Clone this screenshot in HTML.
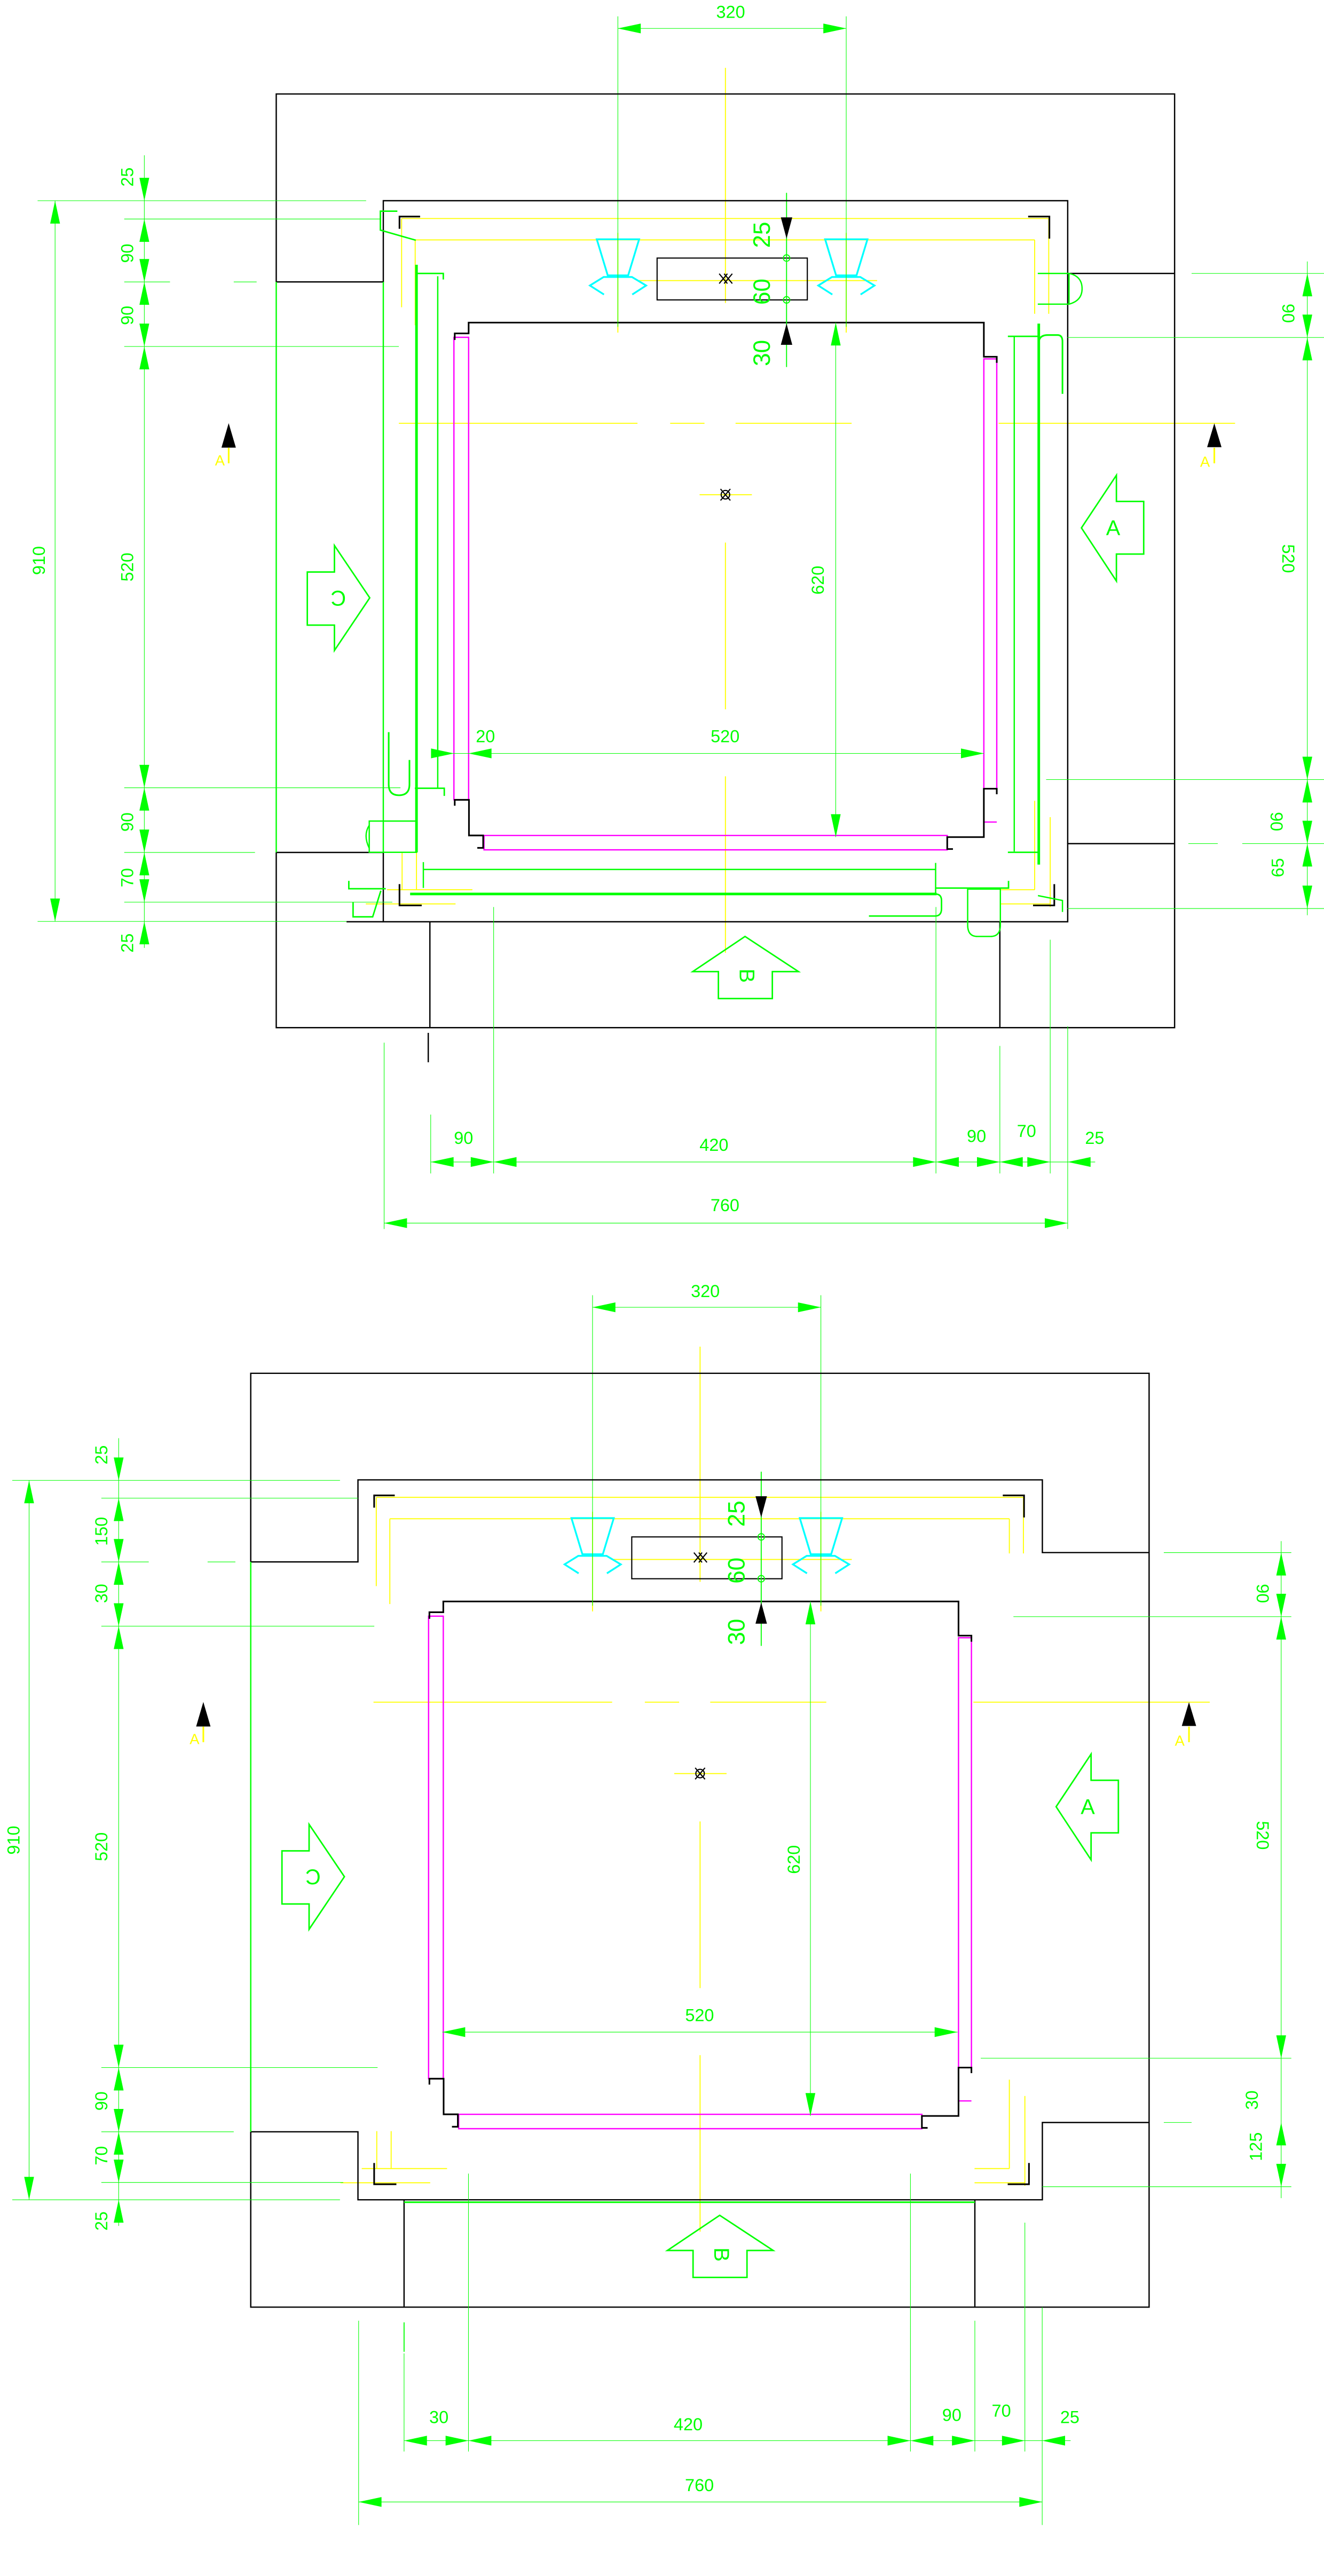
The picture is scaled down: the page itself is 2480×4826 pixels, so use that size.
<!DOCTYPE html>
<html><head><meta charset="utf-8"><style>html,body{margin:0;padding:0;background:#fff}svg{display:block}text{font-family:"Liberation Sans",sans-serif}</style></head>
<body>
<svg xmlns="http://www.w3.org/2000/svg" width="2480" height="4826" viewBox="0 0 810 1576.2" preserveAspectRatio="none">
<rect x="0" y="0" width="810" height="1576.2" fill="#fff"/>
<g id="topcommon">
 <g stroke="#ffff00" stroke-width="0.6" fill="none">
  <path d="M443.8,41.5V185.4M443.8,332V434M443.8,475V583M428,302.7H460"/>
  <path d="M244,259H390M410,259H431M450,259H521M611,259H755.6"/>
  <path d="M378,142.5V203.5M517.7,142.5V203.5M390,171.7H536.6"/>
  <path d="M245.7,133.7H641.6M254,146.8H633M245.7,133.7V188M254,146.8V199M641.6,133.7V192M633,146.8V192"/>
  <path d="M236.8,544.4H289M223.8,553.1H278.7M246,521.5V544.4M254.8,521.5V544.4"/>
  <path d="M611.7,544.4H633M611.7,553.1H642.5M633,490V544.4M642.5,500V555"/>
 </g>
 <g stroke="#000" stroke-width="1" fill="none">
  <path d="M257,132.5H244.4V140M629,132.5H642V146"/>
  <path d="M244.4,541V554H258M645,541V554H632"/>
 </g>
 <g stroke="#ff00ff" stroke-width="0.8" fill="none">
  <rect x="277.7" y="206.4" width="9" height="283"/>
  <rect x="601.9" y="219.6" width="7.9" height="263"/>
  <path d="M296.1,511.2H579.5V520H296.1Z"/>
  <path d="M601.9,500V503H609.8"/>
 </g>
 <g stroke="#000" stroke-width="1" fill="none">
  <path d="M278.2,208V204H286.7V197.4H601.9V218.3H609.8V222"/>
  <path d="M278.2,493V489.4H286.9V511.2H295.6V518.8H292"/>
  <path d="M609.8,486V482.6H601.9V512.2H579.5V519.5H583"/>
 </g>
 <rect x="402" y="157.9" width="91.9" height="25.6" fill="none" stroke="#000" stroke-width="0.7"/>
 <g stroke="#000" stroke-width="0.7" fill="none">
  <path d="M440,167.5l5,6M445,167.5l-5,6M443,167.5l5,6M448,167.5l-5,6"/>
  <circle cx="443.8" cy="302.7" r="2.6"/><path d="M440.8,299.2l6,7M446.8,299.2l-6,7"/>
 </g>
 <g stroke="#00ffff" stroke-width="1.1" fill="none">
  <path d="M365.1,146.4H391L384.3,168.5H371.8Z M369.5,180.2L360.9,174.7L369.3,169.5H386.6L395.3,174.7L386.8,180.2"/>
  <path d="M504.8,146.4H530.7L524,168.5H511.5Z M509.2,180.2L500.6,174.7L509,169.5H526.3L535,174.7L526.5,180.2"/>
 </g>
 <g stroke="#00ff00" stroke-width="0.9" fill="none">
  <path d="M188,350H204.6V333.8L226.2,365.8L204.6,398V382.5H188Z"/>
  <path d="M661.6,323L683,290.8V306.8H699.7V339H683V355.5Z"/>
  <path d="M455.8,573L488.5,594.5H472.5V611H439.5V594.5H423.8Z"/>
 </g>
 <path d="M135.5,273.9L139.9,258.9L144.3,273.9Z M738.5,273.6L742.9,259L747.3,273.6Z" fill="#000"/>
 <path d="M139.9,274V283.5M742.9,274V283.5" stroke="#ffff00" stroke-width="1"/>
 <g stroke="#00ff00" stroke-width="0.35" fill="none">
  <path d="M378,10V200M517.7,10V200M378,17.4H517.7M511.3,197.4V512.2"/>
 </g>
 <g fill="#00ff00">
  <path d="M378,17.4l14,-3v6zM517.7,17.4l-14,-3v6zM511.3,197.4l-3,14h6zM511.3,512.2l-3,-14h6z"/>
 </g>
 <g stroke="#00ff00" stroke-width="0.6" fill="none">
  <path d="M481.2,118V224.6"/>
  <circle cx="481.2" cy="157.9" r="2"/><circle cx="481.2" cy="183.5" r="2"/>
 </g>
 <path d="M481.2,146l-3.5,-13h7zM481.2,198l-3.5,13h7z" fill="#000"/>
</g>

<g transform="translate(-15.5,782.5)">
 <g stroke="#ffff00" stroke-width="0.6" fill="none">
  <path d="M443.8,41.5V185.4M443.8,332V434M443.8,475V583M428,302.7H460"/>
  <path d="M244,259H390M410,259H431M450,259H521M611,259H755.6"/>
  <path d="M378,142.5V203.5M517.7,142.5V203.5M390,171.7H536.6"/>
  <path d="M245.7,133.7H641.6M254,146.8H633M245.7,133.7V188M254,146.8V199M641.6,133.7V168M633,146.8V168"/>
  <path d="M236.8,544.4H289M223.8,553.1H278.7M246,521.5V544.4M254.8,521.5V544.4"/>
  <path d="M611.7,544.4H633M611.7,553.1H642.5M633,490V544.4M642.5,500V555"/>
 </g>
 <g stroke="#000" stroke-width="1" fill="none">
  <path d="M257,132.5H244.4V140M629,132.5H642V146"/>
  <path d="M244.4,541V554H258M645,541V554H632"/>
 </g>
 <g stroke="#ff00ff" stroke-width="0.8" fill="none">
  <rect x="277.7" y="206.4" width="9" height="283"/>
  <rect x="601.9" y="219.6" width="7.9" height="263"/>
  <path d="M296.1,511.2H579.5V520H296.1Z"/>
  <path d="M601.9,500V503H609.8"/>
 </g>
 <g stroke="#000" stroke-width="1" fill="none">
  <path d="M278.2,208V204H286.7V197.4H601.9V218.3H609.8V222"/>
  <path d="M278.2,493V489.4H286.9V511.2H295.6V518.8H292"/>
  <path d="M609.8,486V482.6H601.9V512.2H579.5V519.5H583"/>
 </g>
 <rect x="402" y="157.9" width="91.9" height="25.6" fill="none" stroke="#000" stroke-width="0.7"/>
 <g stroke="#000" stroke-width="0.7" fill="none">
  <path d="M440,167.5l5,6M445,167.5l-5,6M443,167.5l5,6M448,167.5l-5,6"/>
  <circle cx="443.8" cy="302.7" r="2.6"/><path d="M440.8,299.2l6,7M446.8,299.2l-6,7"/>
 </g>
 <g stroke="#00ffff" stroke-width="1.1" fill="none">
  <path d="M365.1,146.4H391L384.3,168.5H371.8Z M369.5,180.2L360.9,174.7L369.3,169.5H386.6L395.3,174.7L386.8,180.2"/>
  <path d="M504.8,146.4H530.7L524,168.5H511.5Z M509.2,180.2L500.6,174.7L509,169.5H526.3L535,174.7L526.5,180.2"/>
 </g>
 <g stroke="#00ff00" stroke-width="0.9" fill="none">
  <path d="M188,350H204.6V333.8L226.2,365.8L204.6,398V382.5H188Z"/>
  <path d="M661.6,323L683,290.8V306.8H699.7V339H683V355.5Z"/>
  <path d="M455.8,573L488.5,594.5H472.5V611H439.5V594.5H423.8Z"/>
 </g>
 <path d="M135.5,273.9L139.9,258.9L144.3,273.9Z M738.5,273.6L742.9,259L747.3,273.6Z" fill="#000"/>
 <path d="M139.9,274V283.5M742.9,274V283.5" stroke="#ffff00" stroke-width="1"/>
 <g stroke="#00ff00" stroke-width="0.35" fill="none">
  <path d="M378,10V200M517.7,10V200M378,17.4H517.7M511.3,197.4V512.2"/>
 </g>
 <g fill="#00ff00">
  <path d="M378,17.4l14,-3v6zM517.7,17.4l-14,-3v6zM511.3,197.4l-3,14h6zM511.3,512.2l-3,-14h6z"/>
 </g>
 <g stroke="#00ff00" stroke-width="0.6" fill="none">
  <path d="M481.2,118V224.6"/>
  <circle cx="481.2" cy="157.9" r="2"/><circle cx="481.2" cy="183.5" r="2"/>
 </g>
 <path d="M481.2,146l-3.5,-13h7zM481.2,198l-3.5,13h7z" fill="#000"/>
</g>

<!-- ===== TOP DRAWING ===== -->
<g stroke="#000" stroke-width="0.8" fill="none">
 <path d="M169,172.5V57.5H718.6V628.8H169V521.6"/>
 <path d="M169,172.5H234.5V122.8H653.2V167.3H718.6"/>
 <path d="M169,521.6H234.5V564H653.2V516.2H718.6"/>
 <path d="M653.2,167.3V516.2"/>
 <path d="M212,564H234.5M263,564V628.8M611.7,564V628.8M262,632V650"/>
</g>
<g stroke="#00ff00" fill="none">
 <path d="M169,172.5V521.6M234.5,172.5V521.6" stroke-width="0.8"/>
 <path d="M254.8,162V521.5M635.5,198V529M250.9,547H573" stroke-width="1.6"/>
 <path d="M267.8,169V482M620.5,206V521M259,532H572.4M259,527.5V543.3M572.4,528V547" stroke-width="0.8"/>
 <path d="M243.1,129.2H232.7V140.8L254.4,147M254.4,167.3H271.2V171M253.8,482.3H271.8V487" stroke-width="0.9"/>
 <path d="M237.8,448V480Q237.8,486.6 244,486.6Q250.5,486.6 250.5,480V465" stroke-width="1"/>
 <rect x="225.9" y="502.4" width="28.9" height="19.1" stroke-width="0.8"/>
 <path d="M225.9,505Q222,511 225.9,519" stroke-width="0.8"/>
 <path d="M213.4,539V543.8H236M216,552V561H228L233,545" stroke-width="0.9"/>
 <path d="M531.6,560.5H572Q576,560.5 576,556V551Q576,547 572,547H560" stroke-width="0.9"/>
 <path d="M572.4,543.4H617V539M616.6,205.8H635.5M616.6,521.5H635.5V525" stroke-width="0.9"/>
 <path d="M592,544V566Q592,573 598,573H606Q612,573 612,566V544Z" stroke-width="0.8"/>
 <path d="M635.5,210Q635.5,205 641,205H647Q650,205 650,209V241" stroke-width="1"/>
 <path d="M634.9,167.3H654V186.1H634.9M654,167.3Q662,169 662,176.7Q662,184 654,186.1" stroke-width="0.8"/>
 <path d="M635,548L650,551V558" stroke-width="0.8"/>
</g>
<g stroke="#00ff00" stroke-width="0.35" fill="none">
 <path d="M23,122.8H224M76,134H233M76,172.5H104M143,172.5H157M76,212H244M76,482H245M76,521.6H156M76,552H240M23,563.8H212"/>
 <path d="M88.3,95V580M33.7,122.8V563.8"/>
 <path d="M729,167.3H810M653,206.5H810M640,477H810M760,516.2H810M653,555.9H810M727,516.2H745M799.8,160V560"/>
 <path d="M235,638V752M263.5,682V718M302,555V718M572.6,555V718M611.7,640V718M642.5,575V718M653.2,628V752M263.5,711H670M235,748.4H653.2"/>
 <path d="M264,461H601.9"/>
</g>
<g fill="#00ff00">
 <path d="M88.3,122.8l-3,-14h6zM88.3,134l-3,14h6zM88.3,172.5l-3,-14h6zM88.3,172.5l-3,14h6zM88.3,212l-3,-14h6zM88.3,212l-3,14h6zM88.3,482l-3,-14h6zM88.3,482l-3,14h6zM88.3,521.6l-3,-14h6zM88.3,521.6l-3,14h6zM88.3,552l-3,-14h6zM88.3,563.8l-3,14h6z"/>
 <path d="M33.7,122.8l-3,14h6zM33.7,563.8l-3,-14h6z"/>
 <path d="M799.8,167.3l-3,14h6zM799.8,206.5l-3,-14h6zM799.8,206.5l-3,14h6zM799.8,477l-3,-14h6zM799.8,477l-3,14h6zM799.8,516.2l-3,-14h6zM799.8,516.2l-3,14h6zM799.8,555.9l-3,-14h6z"/>
 <path d="M263.5,711l14,-3v6zM302,711l-14,-3v6zM302,711l14,-3v6zM572.6,711l-14,-3v6zM572.6,711l14,-3v6zM611.7,711l-14,-3v6zM611.7,711l14,-3v6zM642.5,711l-14,-3v6zM653.2,711l14,-3v6z"/>
 <path d="M235,748.4l14,-3v6zM653.2,748.4l-14,-3v6z"/>
 <path d="M286.7,461l14,-3v6zM601.9,461l-14,-3v6zM277.7,461l-14,-3v6z"/>
</g>
<g fill="#00ff00" font-size="10.6" text-anchor="middle">
 <text x="447" y="11">320</text>
 <text transform="translate(81.5,108.3) rotate(-90)">25</text>
 <text transform="translate(81.5,155) rotate(-90)">90</text>
 <text transform="translate(81.5,193) rotate(-90)">90</text>
 <text transform="translate(81.5,347) rotate(-90)">520</text>
 <text transform="translate(81.5,503) rotate(-90)">90</text>
 <text transform="translate(81.5,537) rotate(-90)">70</text>
 <text transform="translate(81.5,577) rotate(-90)">25</text>
 <text transform="translate(27.5,343) rotate(-90)">910</text>
 <text transform="translate(784.5,191.7) rotate(90)">90</text>
 <text transform="translate(784.5,341.8) rotate(90)">520</text>
 <text transform="translate(777.3,502.7) rotate(90)">90</text>
 <text transform="translate(785.3,530.9) rotate(-90)">65</text>
 <text x="283.6" y="700">90</text>
 <text x="436.8" y="704.2">420</text>
 <text x="597.4" y="698.7">90</text>
 <text x="628" y="695.7">70</text>
 <text x="669.7" y="700">25</text>
 <text x="443.5" y="741">760</text>
 <text x="297" y="454.2">20</text>
 <text x="443.6" y="454.2">520</text>
 <text transform="translate(504,355) rotate(-90)">620</text>
</g>
<g fill="#00ff00" font-size="14.4" text-anchor="middle">
 <text transform="translate(471,143.7) rotate(-90)">25</text>
 <text transform="translate(471,178.5) rotate(-90)">60</text>
 <text transform="translate(471,216) rotate(-90)">30</text>
 <text transform="translate(207,361.5) rotate(180)" font-size="13">C</text>
 <text x="681" y="327.5" font-size="13">A</text>
 <text transform="translate(452.5,597) rotate(90)" font-size="13">B</text>
</g>
<g fill="#ffff00" font-size="9" text-anchor="middle">
 <text x="134.5" y="284.8">A</text>
 <text x="737.2" y="285.7">A</text>
 <text x="119" y="1067.2">A</text>
 <text x="721.7" y="1068.2">A</text>
</g>

<!-- ===== BOTTOM DRAWING ===== -->
<g stroke="#000" stroke-width="0.8" fill="none">
 <path d="M153.4,955.7V840.3H703V1411.7H153.4V1304.4"/>
 <path d="M153.4,955.7H219V905.5H637.7V950H703"/>
 <path d="M153.4,1304.4H219V1346H637.7V1298.7H703"/>
 <path d="M247.2,1346V1411.7M596.4,1346V1411.7"/>
</g>
<g stroke="#00ff00" fill="none">
 <path d="M153.4,955.7V1304.4" stroke-width="0.8"/>
 <path d="M247.2,1347.5H596.4" stroke-width="1"/>
 <path d="M247.2,1421V1439" stroke-width="0.6"/>
</g>
<g stroke="#00ff00" stroke-width="0.35" fill="none">
 <path d="M7.5,905.8H208M62,916.7H219M62,955.7H91M127,955.7H144M62,995H229M62,1265.1H231M62,1304.4H143M62,1335.4H210M7.5,1346H208"/>
 <path d="M72.6,880V1362M17.8,905.8V1346"/>
 <path d="M712,950H790M620,989.2H790M600,1259.4H790M712,1298.7H729M637.7,1338H790M783.8,943V1345"/>
 <path d="M219.4,1420V1545M247.2,1440V1500M286.6,1330V1500M557,1330V1500M596.4,1420V1500M627,1360V1500M637.6,1411.7V1545M247.2,1493.4H655M219.4,1530.9H637.6M270.6,1243.4H585.8"/>
</g>
<g fill="#00ff00">
 <path d="M72.6,905.8l-3,-14h6zM72.6,916.7l-3,14h6zM72.6,955.7l-3,-14h6zM72.6,955.7l-3,14h6zM72.6,995l-3,-14h6zM72.6,995l-3,14h6zM72.6,1265.1l-3,-14h6zM72.6,1265.1l-3,14h6zM72.6,1304.4l-3,-14h6zM72.6,1304.4l-3,14h6zM72.6,1335.4l-3,-14h6zM72.6,1346l-3,14h6z"/>
 <path d="M17.8,905.8l-3,14h6zM17.8,1346l-3,-14h6z"/>
 <path d="M783.8,950l-3,14h6zM783.8,989.2l-3,-14h6zM783.8,989.2l-3,14h6zM783.8,1259.4l-3,-14h6zM783.8,1298.7l-3,14h6zM783.8,1338l-3,-14h6z"/>
 <path d="M247.2,1493.4l14,-3v6zM286.6,1493.4l-14,-3v6zM286.6,1493.4l14,-3v6zM557,1493.4l-14,-3v6zM557,1493.4l14,-3v6zM596.4,1493.4l-14,-3v6zM627,1493.4l-14,-3v6zM637.6,1493.4l14,-3v6z"/>
 <path d="M219.4,1530.9l14,-3v6zM637.6,1530.9l-14,-3v6z"/>
 <path d="M270.6,1243.4l14,-3v6zM585.8,1243.4l-14,-3v6z"/>
</g>
<g fill="#00ff00" font-size="10.6" text-anchor="middle">
 <text x="431.5" y="793.6">320</text>
 <text transform="translate(65.6,890.2) rotate(-90)">25</text>
 <text transform="translate(65.6,937) rotate(-90)">150</text>
 <text transform="translate(65.6,975) rotate(-90)">30</text>
 <text transform="translate(65.6,1130) rotate(-90)">520</text>
 <text transform="translate(65.6,1285.6) rotate(-90)">90</text>
 <text transform="translate(65.6,1319) rotate(-90)">70</text>
 <text transform="translate(65.6,1359) rotate(-90)">25</text>
 <text transform="translate(12,1126) rotate(-90)">910</text>
 <text transform="translate(768.9,975) rotate(90)">90</text>
 <text transform="translate(768.9,1123) rotate(90)">520</text>
 <text transform="translate(769.5,1285) rotate(-90)">30</text>
 <text transform="translate(772,1313.5) rotate(-90)">125</text>
 <text x="268.5" y="1482.7">30</text>
 <text x="421" y="1487">420</text>
 <text x="582.3" y="1481.3">90</text>
 <text x="612.6" y="1478.7">70</text>
 <text x="654.5" y="1482.7">25</text>
 <text x="427.9" y="1524.3">760</text>
 <text x="428" y="1236.7">520</text>
 <text transform="translate(489.2,1137.8) rotate(-90)">620</text>
</g>
<g fill="#00ff00" font-size="14.4" text-anchor="middle">
 <text transform="translate(455.5,926.2) rotate(-90)">25</text>
 <text transform="translate(455.5,961) rotate(-90)">60</text>
 <text transform="translate(455.5,998.5) rotate(-90)">30</text>
 <text transform="translate(191.5,1144) rotate(180)" font-size="13">C</text>
 <text x="665.5" y="1110" font-size="13">A</text>
 <text transform="translate(437,1379.5) rotate(90)" font-size="13">B</text>
</g>
</svg>
</body></html>
